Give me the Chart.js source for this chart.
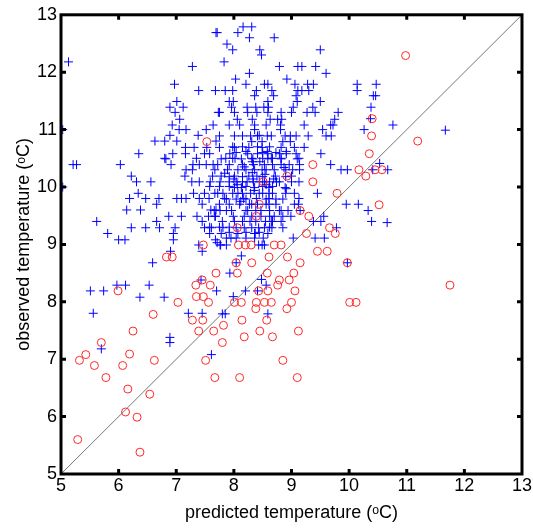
<!DOCTYPE html>
<html>
<head>
<meta charset="utf-8">
<script src="https://cdn.jsdelivr.net/npm/chart.js@4"></script>
<style>
  html, body { margin: 0; padding: 0; background: #fff; }
  #wrap { width: 533px; height: 528px; }
</style>
</head>
<body>
<div id="wrap"><canvas id="scatter" width="533" height="528"></canvas></div>
<script>
// axis range / ticks
const axisMin = 5;
const axisMax = 13;
const tickValues = [5, 6, 7, 8, 9, 10, 11, 12, 13];

// blue crosses: [predicted, observed]
const bluePoints = [
  // left / upper-left part
  [7.69,12.69],[5.13,12.18],[7.28,12.10],[6.97,11.79],[7.39,11.68],[7.68,11.68],[7.01,11.49],[6.89,11.39],
  [7.12,11.39],[6.98,11.30],[7.73,11.30],[7.06,11.18],[7.64,11.08],[6.93,11.08],[5.03,11.0],[7.05,11.0],
  [7.17,11.0],[7.52,11.0],[6.89,10.90],[7.38,10.90],[6.63,10.80],[6.80,10.80],[7.01,10.80],[7.69,10.80],
  [7.16,10.69],[7.31,10.69],[7.53,10.69],[6.35,10.58],[6.94,10.58],[7.16,10.58],[7.49,10.58],[7.58,10.58],
  [6.80,10.50],[7.35,10.50],
  [5.21,10.39],[5.27,10.39],[6.03,10.39],[6.82,10.49],[6.91,10.39],[7.29,10.39],[7.40,10.39],[7.52,10.39],
  [7.64,10.39],[7.17,10.30],[7.28,10.30],[7.67,10.30],[6.22,10.19],[7.15,10.19],[7.63,10.19],[5.03,10.0],
  [6.31,10.09],[6.56,10.09],[7.27,10.09],[7.40,10.09],[7.59,10.09],[6.34,9.89],[6.19,9.80],[6.47,9.80],
  [6.70,9.80],[7.01,9.80],[7.09,9.80],[7.17,9.80],[7.30,9.89],[7.40,9.80],[7.57,9.80],[7.49,9.89],
  [7.67,9.89],[6.66,9.70],[7.45,9.70],[6.14,9.60],[6.38,9.60],[7.60,9.60],[7.69,9.60],[6.87,9.49],
  [7.09,9.49],[7.36,9.49],[7.56,9.49],[7.67,9.49],[5.62,9.40],[6.66,9.40],[7.45,9.40],[6.22,9.29],
  [6.47,9.29],[6.71,9.29],[6.98,9.29],[7.49,9.29],[7.61,9.29],[5.81,9.19],[6.95,9.19],[7.58,9.19],
  [6.00,9.08],[6.11,9.08],[6.95,9.08],[7.68,9.08],[7.39,8.99],[6.90,8.88],[7.45,8.88],[6.59,8.68],
  [5.97,8.29],[6.12,8.29],[6.53,8.29],[7.43,8.38],[5.51,8.19],[5.74,8.19],[7.70,8.19],[6.37,8.08],
  [6.79,8.08],[5.56,7.80],[7.21,7.80],[7.45,7.80],
  [5.70,7.18],[6.89,7.38],[6.89,7.29],[7.61,7.08],[7.80,7.79],[7.85,7.79],[8.59,7.79],
  // middle / right part
  [9.68,10.39],[9.86,10.30],[9.97,10.30],[10.41,10.30],[9.00,10.09],[9.45,9.89],[8.91,9.97],[9.95,9.70],
  [10.16,9.70],[10.33,9.59],[9.15,9.59],[8.82,9.59],[8.94,9.59],[9.38,9.40],[9.51,9.40],[9.56,9.49],
  [8.65,9.40],[8.82,9.40],[10.39,9.40],[8.66,9.29],[8.85,9.29],[9.78,9.29],[9.03,9.11],[9.41,9.11],
  [9.57,9.11],[9.97,8.68],[8.04,8.68],[8.13,8.80],[7.93,8.50],[8.48,8.39],[8.20,8.19],[8.41,8.19],
  [8.56,8.29],[7.99,8.09],[7.71,9.03],[7.77,8.99],[7.87,9.11],[7.95,9.11],[8.51,9.11],[8.49,8.99],
  [8.37,9.19],[7.81,9.29],
  [10.53,10.41],[10.67,10.30],[10.66,9.38],
  [10.47,11.79],[10.42,11.59],[10.46,11.59],[10.38,11.39],[10.37,11.19],[10.76,11.08],[11.67,10.99],
  // top part
  [8.16,12.79],[8.31,12.79],[7.71,12.69],[8.07,12.69],[8.27,12.60],[8.70,12.60],[7.88,12.49],[7.98,12.39],
  [8.45,12.39],[8.48,12.30],[9.50,12.39],[7.83,12.18],[8.79,12.10],[9.11,12.10],[9.18,12.10],[9.42,12.10],
  [8.27,11.98],[9.60,11.98],[8.03,11.88],[8.92,11.88],[8.21,11.79],[8.53,11.79],[8.59,11.79],[9.06,11.79],
  [9.28,11.79],[9.38,11.79],[10.14,11.79],[10.14,11.68],[7.85,11.68],[7.98,11.68],[8.39,11.68],[8.66,11.68],
  [9.11,11.68],[9.18,11.68],[9.30,11.68],[8.36,11.59],[8.69,11.59],[9.08,11.59],[7.92,11.49],[7.99,11.49],
  [8.59,11.49],[9.10,11.49],[9.50,11.49],[7.96,11.39],[8.23,11.39],[8.38,11.39],[8.52,11.39],[8.60,11.39],
  [9.03,11.39],[9.37,11.39],[7.75,11.30],[8.01,11.30],[8.24,11.30],[8.40,11.30],[8.59,11.30],[8.82,11.30],
  [9.00,11.30],[9.27,11.30],[9.41,11.30],[9.81,11.30],[9.75,11.18],[9.72,11.08],[8.06,11.18],[8.32,11.18],
  [8.63,11.18],[8.76,11.18],[8.83,11.18],[7.92,11.08],[8.36,11.08],[8.81,11.08],[9.22,11.08],[9.68,11.08],
  [9.54,11.0],[10.26,11.0],[7.75,10.89],[8.01,10.89],[8.15,10.89],[8.29,10.89],[8.41,10.89],[8.58,10.89],
  [8.65,10.89],[8.89,10.89],[8.98,10.89],[9.08,10.89],[9.29,10.89],[9.60,10.89],[9.69,10.89],[7.75,10.69],
  [8.01,10.69],[8.26,10.69],[8.49,10.69],[8.82,10.69],[9.05,10.69],[9.22,10.69],[7.93,10.58],[8.24,10.58],
  [8.41,10.58],[8.59,10.58],[8.79,10.58],[8.91,10.58],[9.08,10.58],[9.51,10.58],[7.86,10.50],[8.02,10.50],
  [8.31,10.50],[8.65,10.50],[8.82,10.50],[9.13,10.50],
  [8.36,11.0],[8.81,11.0],[8.31,10.79],[8.49,10.79],[8.85,10.79],[8.98,10.79],[8.58,10.62],[8.21,10.62],
  [8.91,10.62],
  // dense core
  [7.78,10.49],[8.13,10.49],[8.33,10.49],[8.59,10.49],[8.82,10.49],[9.10,10.49],
  [7.72,10.39],[7.92,10.39],[8.15,10.39],[8.34,10.39],[8.53,10.39],[8.67,10.39],[8.82,10.39],[8.96,10.39],[9.14,10.39],
  [7.89,10.30],[8.07,10.30],[8.36,10.30],[8.49,10.30],[8.70,10.30],[8.90,10.30],[9.14,10.30],
  [7.78,10.19],[8.01,10.19],[8.26,10.19],[8.40,10.19],[8.72,10.19],[9.00,10.19],
  [7.76,10.09],[8.04,10.09],[8.23,10.09],[8.34,10.09],[8.53,10.09],[8.74,10.09],
  [8.01,9.99],[8.13,9.99],[8.36,9.99],[8.61,9.99],[8.89,9.99],
  [7.72,9.89],[8.07,9.89],[8.29,9.89],[8.44,9.89],[8.61,9.89],[9.05,9.89],
  [7.84,9.80],[8.17,9.80],[8.39,9.80],[8.61,9.80],[9.13,9.80],
  [8.10,9.70],[8.31,9.70],[8.61,9.70],[9.05,9.70],[9.12,9.70],
  [7.66,9.59],[7.76,9.59],[7.87,9.59],[7.96,9.59],[8.24,9.59],[8.38,9.59],[8.47,9.59],
  [7.68,9.49],[7.99,9.49],[8.18,9.49],[8.31,9.49],[8.47,9.49],[8.70,9.49],[8.85,9.49],[8.99,9.49],
  [7.80,9.40],[8.01,9.40],[8.28,9.40],[8.55,9.40],
  [8.04,9.29],[8.18,9.29],[8.31,9.29],[8.43,9.29],[8.53,9.29],
  [7.78,9.19],[8.07,9.19],[8.36,9.19],[8.59,9.19],
  [7.76,8.99],[7.87,8.99],[8.43,8.99],[8.53,8.99],
  [8.32,10.44],[8.32,10.25],[8.33,10.14],[8.35,9.94],[8.54,10.22],[8.56,10.04],[8.69,10.14],[7.84,10.24],
  [8.06,10.04],[8.87,10.34],[8.18,10.35],[8.45,10.44],[8.12,9.75],[8.00,10.14],
  // more of the core
  [8.10,11.08],[8.56,11.08],[8.44,10.90],[7.98,10.70],[8.15,10.70],[8.41,10.70],[8.62,10.70],
  [8.04,10.60],[8.50,10.60],[8.73,10.60],[7.98,10.50],[8.50,10.50],[8.67,10.50],
  [8.21,10.30],[8.56,10.30],[9.02,10.30],[7.92,10.18],[8.15,10.18],[8.50,10.18],[8.90,10.18],
  [7.92,10.09],[8.15,10.09],[8.44,10.09],[8.62,10.09],[8.79,10.09],[9.13,10.09],
  [7.58,10.01],[7.75,10.01],[7.92,10.01],[8.21,10.01],[8.50,10.01],[8.67,10.01],
  [7.81,9.89],[7.98,9.89],[8.15,9.89],[8.50,9.89],[8.67,9.89],[8.90,9.89],
  [7.87,9.79],[8.04,9.79],[8.21,9.79],[8.56,9.79],[8.73,9.79],[8.85,9.79],
  [7.75,9.70],[7.92,9.70],[8.27,9.70],[8.41,9.70],[8.56,9.70],[8.73,9.70],
  [8.21,9.59],[8.62,9.59],[8.79,9.59],[8.62,9.49],
  [8.15,9.40],[8.38,9.40],[8.67,9.40],[7.58,9.30],[7.75,9.30],[7.92,9.30],[8.62,9.30],
  [7.92,9.21],[8.21,9.21],[8.44,9.21],[8.04,9.11],[8.21,9.11],[8.36,9.11]
];

// red circles: [predicted, observed]
const redPoints = [
  [6.60,7.78],[7.28,7.68],[7.46,7.68],[6.25,7.49],[7.39,7.49],[7.65,7.49],[5.70,7.29],[5.43,7.08],
  [6.19,7.09],[5.32,6.98],[6.62,6.98],[7.51,6.98],[5.58,6.89],[6.07,6.89],[5.78,6.68],[7.67,6.68],
  [6.16,6.48],[6.54,6.39],[6.12,6.08],[6.32,5.99],[5.29,5.60],[6.37,5.38],[7.82,7.59],[7.80,7.29],
  [8.14,7.68],[8.57,7.68],[8.45,7.49],[8.18,7.39],[8.67,7.39],[9.12,7.49],[8.85,6.98],[8.10,6.68],
  [9.10,6.68],
  [9.37,10.39],[8.92,10.19],[8.51,10.09],[9.37,10.09],[10.17,10.30],[10.29,10.19],[9.79,9.89],[8.44,9.70],
  [8.39,9.49],[9.30,9.49],[9.15,9.59],[8.06,9.29],[9.66,9.29],[9.76,9.19],[9.26,9.19],[8.08,8.99],
  [8.20,8.99],[8.30,8.99],[8.70,8.99],[8.82,8.99],[8.61,8.78],[8.93,8.78],[9.45,8.88],[9.62,8.88],
  [8.31,8.68],[9.15,8.68],[8.04,8.68],[9.97,8.68],[7.69,8.50],[8.06,8.50],[8.58,8.50],[9.04,8.50],
  [8.79,8.38],[8.96,8.38],[8.76,8.29],[8.43,8.19],[8.59,8.19],[9.06,8.19],[8.01,7.99],[8.13,7.99],
  [8.39,7.99],[8.53,7.99],[8.65,7.99],[9.00,7.99],[10.01,7.99],[10.12,7.99],[8.38,7.88],[8.92,7.88],
  [7.47,8.99],[6.83,8.78],[6.93,8.78],[7.45,8.38],[7.34,8.29],[7.59,8.29],[5.99,8.19],[7.35,8.09],
  [7.47,8.09],[7.56,7.99],[7.03,7.99],
  [7.53,10.79],[10.98,12.29],[10.40,11.19],[10.39,10.89],[10.35,10.58],[11.19,10.80],[10.45,10.30],
  [10.57,10.30],[10.52,9.69],[11.75,8.29]
];

const toXY = arr => arr.map(p => ({ x: p[0], y: p[1] }));

// frame + inward tick marks
const framePlugin = {
  id: 'frame',
  afterDraw(chart) {
    const { ctx, chartArea: a, scales } = chart;
    ctx.save();
    ctx.strokeStyle = '#000';
    ctx.lineWidth = 3;
    ctx.strokeRect(a.left, a.top, a.right - a.left, a.bottom - a.top);
    const len = 5;
    tickValues.forEach(v => {
      if (v === axisMin || v === axisMax) return;
      const px = scales.x.getPixelForValue(v);
      const py = scales.y.getPixelForValue(v);
      ctx.beginPath();
      ctx.moveTo(px, a.bottom); ctx.lineTo(px, a.bottom - len);
      ctx.moveTo(px, a.top); ctx.lineTo(px, a.top + len);
      ctx.moveTo(a.left, py); ctx.lineTo(a.left + len, py);
      ctx.moveTo(a.right, py); ctx.lineTo(a.right - len, py);
      ctx.stroke();
    });
    ctx.restore();
  }
};

const tickFont = { family: "'Liberation Sans', Arial, sans-serif", size: 18 };
const titleFont = { family: "'Liberation Sans', Arial, sans-serif", size: 18 };

new Chart(document.getElementById('scatter'), {
  type: 'scatter',
  data: {
    datasets: [
      {
        label: 'one-to-one',
        type: 'line',
        data: [{ x: axisMin, y: axisMin }, { x: axisMax, y: axisMax }],
        borderColor: '#777',
        borderWidth: 1,
        pointRadius: 0,
        order: 3
      },
      {
        label: 'blue',
        data: toXY(bluePoints),
        pointStyle: 'cross',
        pointRadius: 4.5,
        borderColor: 'rgb(0,0,255)',
        borderWidth: 1,
        order: 2
      },
      {
        label: 'red',
        data: toXY(redPoints),
        pointStyle: 'circle',
        pointRadius: 4,
        borderColor: 'rgb(255,40,40)',
        backgroundColor: 'rgba(0,0,0,0)',
        borderWidth: 1,
        order: 1
      }
    ]
  },
  options: {
    responsive: false,
    animation: false,
    layout: { padding: { top: 12, right: 10, left: 0, bottom: 0 } },
    plugins: { legend: { display: false }, tooltip: { enabled: false } },
    scales: {
      x: {
        type: 'linear',
        min: axisMin,
        max: axisMax,
        afterFit: s => { s.height = 54; },
        afterBuildTicks: s => { s.ticks = tickValues.map(v => ({ value: v })); },
        grid: { display: false, drawTicks: false },
        border: { display: false },
        ticks: { color: '#000', font: tickFont, padding: 1, maxRotation: 0 },
        title: { display: true, text: 'predicted temperature (ᵒC)', color: '#000', font: titleFont, padding: { top: 0, bottom: 4 } }
      },
      y: {
        type: 'linear',
        min: axisMin,
        max: axisMax,
        afterFit: s => { s.width = 61; },
        afterBuildTicks: s => { s.ticks = tickValues.map(v => ({ value: v })); },
        grid: { display: false, drawTicks: false },
        border: { display: false },
        ticks: { color: '#000', font: tickFont, padding: 4 },
        title: { display: true, text: 'observed temperature (ᵒC)', color: '#000', font: titleFont, padding: { top: 13, bottom: 0 } }
      }
    }
  },
  plugins: [framePlugin]
});
</script>
</body>
</html>
